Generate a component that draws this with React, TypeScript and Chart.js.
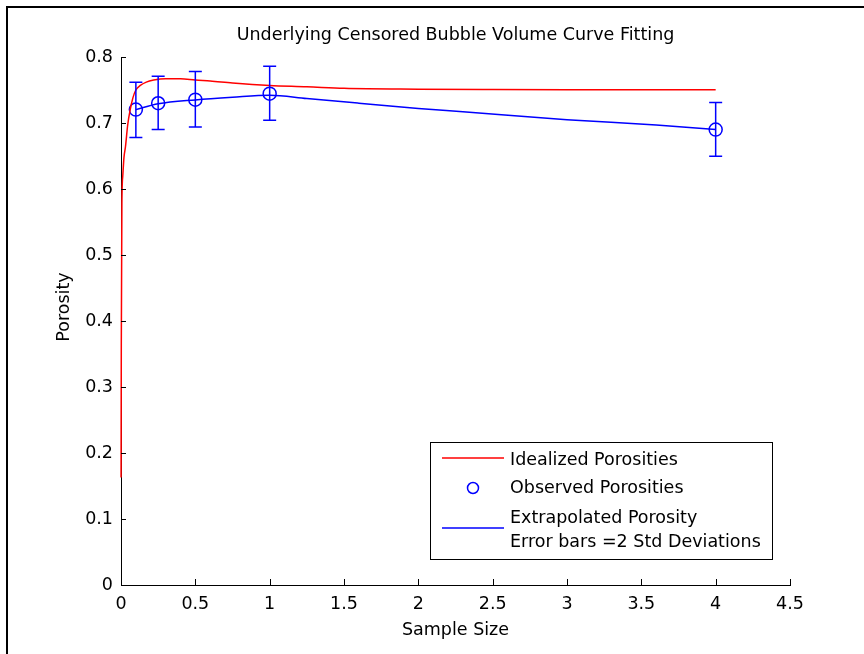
import React, { useEffect, useRef } from "react";
import { Chart, registerables } from "chart.js";

Chart.register(...registerables);

const FONT = "'DejaVu Sans', sans-serif";
const FS = 17.5;
const chartTitle = "Underlying Censored Bubble Volume Curve Fitting";
const xAxisTitle = "Sample Size";
const yAxisTitle = "Porosity";
const legendLabels = [
  "Idealized Porosities",
  "Observed Porosities",
  "Extrapolated Porosity",
  "Error bars =2 Std Deviations",
];

// Idealized porosity curve (red)
const idealX = [0.0005, 0.002, 0.006, 0.012, 0.02, 0.03, 0.045, 0.06, 0.08, 0.1, 0.13, 0.17, 0.22, 0.3, 0.4, 0.5, 0.6, 0.75, 1.0, 1.25, 1.5, 2.0, 2.5, 3.0, 3.5, 4.0];
const idealY = [0.163, 0.366, 0.578, 0.62, 0.648, 0.664, 0.697, 0.718, 0.738, 0.750, 0.757, 0.762, 0.765, 0.767, 0.767, 0.765, 0.7635, 0.7606, 0.757, 0.755, 0.7525, 0.7512, 0.7507, 0.7505, 0.7505, 0.7505];

// Observed porosities with error bars (blue circles)
const obsX = [0.1, 0.25, 0.5, 1, 4];
const obsY = [0.7203, 0.730, 0.7354, 0.7445, 0.690];
const obsLow = [0.678, 0.690, 0.694, 0.704, 0.6495];
const obsHigh = [0.7616, 0.771, 0.778, 0.786, 0.731];

// Extrapolated porosity (blue line)
const extrapX = [0.1, 0.25, 0.5, 0.75, 1.0, 1.25, 1.6, 2.0, 2.3, 3.0, 3.6, 4.0];
const extrapY = [0.7203, 0.729, 0.735, 0.739, 0.742, 0.737, 0.730, 0.722, 0.717, 0.705, 0.697, 0.690];

const X_MIN = 0, X_MAX = 4.5, X_STEP = 0.5;
const Y_MIN = 0, Y_MAX = 0.8, Y_STEP = 0.1;

const fmt = (v: number) => String(Math.round(v * 100) / 100);

const decorPlugin = {
  id: "decor",
  beforeDraw(chart: any) {
    const ctx = chart.ctx;
    ctx.save();
    ctx.fillStyle = "#fff";
    ctx.fillRect(0, 0, chart.width, chart.height);
    ctx.strokeStyle = "#000";
    ctx.lineWidth = 2;
    ctx.beginPath();
    ctx.moveTo(7, chart.height);
    ctx.lineTo(7, 7);
    ctx.lineTo(chart.width, 7);
    ctx.stroke();
    ctx.restore();
  },
  afterDatasetsDraw(chart: any) {
    const ctx = chart.ctx;
    const xs = chart.scales.x;
    const ys = chart.scales.y;
    const area = chart.chartArea;
    ctx.save();
    ctx.strokeStyle = "#0000ff";
    ctx.lineWidth = 1.5;
    for (let i = 0; i < obsX.length; i++) {
      const px = xs.getPixelForValue(obsX[i]);
      const pt = ys.getPixelForValue(obsHigh[i]);
      const pb = ys.getPixelForValue(obsLow[i]);
      ctx.beginPath();
      ctx.moveTo(px, pt);
      ctx.lineTo(px, pb);
      ctx.moveTo(px - 6.5, pt);
      ctx.lineTo(px + 6.5, pt);
      ctx.moveTo(px - 6.5, pb);
      ctx.lineTo(px + 6.5, pb);
      ctx.stroke();
    }
    ctx.strokeStyle = "#000";
    ctx.lineWidth = 1;
    ctx.beginPath();
    xs.ticks.forEach((t: any) => {
      const px = Math.round(xs.getPixelForValue(t.value)) + 0.5;
      ctx.moveTo(px, area.bottom);
      ctx.lineTo(px, area.bottom - 6);
    });
    ys.ticks.forEach((t: any) => {
      const py = Math.round(ys.getPixelForValue(t.value)) + 0.5;
      ctx.moveTo(area.left, py);
      ctx.lineTo(area.left + 5, py);
    });
    ctx.stroke();
    ctx.restore();
  },
  afterDraw(chart: any) {
    const ctx = chart.ctx;
    const area = chart.chartArea;
    ctx.save();
    ctx.fillStyle = "#000";
    ctx.font = `${FS}px ${FONT}`;
    ctx.textAlign = "center";
    ctx.textBaseline = "middle";
    ctx.fillText(chartTitle, (area.left + area.right) / 2, 35);
    ctx.save();
    ctx.translate(64, 307);
    ctx.rotate(-Math.PI / 2);
    ctx.fillText(yAxisTitle, 0, 0);
    ctx.restore();

    const lx = 430.5, ly = 442.5, lw = 342, lh = 117;
    ctx.fillStyle = "#fff";
    ctx.fillRect(lx, ly, lw, lh);
    ctx.strokeStyle = "#000";
    ctx.lineWidth = 1;
    ctx.strokeRect(lx, ly, lw, lh);

    ctx.lineWidth = 1.5;
    ctx.strokeStyle = "#ff0000";
    ctx.beginPath();
    ctx.moveTo(442, 458);
    ctx.lineTo(504, 458);
    ctx.stroke();

    ctx.strokeStyle = "#0000ff";
    ctx.beginPath();
    ctx.arc(473, 488, 5.5, 0, Math.PI * 2);
    ctx.stroke();

    ctx.beginPath();
    ctx.moveTo(442, 528);
    ctx.lineTo(504, 528);
    ctx.stroke();

    ctx.fillStyle = "#000";
    ctx.textAlign = "left";
    ctx.textBaseline = "middle";
    ctx.fillText(legendLabels[0], 510, 460);
    ctx.fillText(legendLabels[1], 510, 488);
    ctx.fillText(legendLabels[2], 510, 518);
    ctx.fillText(legendLabels[3], 510, 542);
    ctx.restore();
  },
};

export default function App() {
  const ref = useRef<HTMLCanvasElement | null>(null);
  useEffect(() => {
    if (!ref.current) return;
    Chart.defaults.color = "#000";
    Chart.defaults.font.family = FONT;
    Chart.defaults.font.size = FS;
    const chart = new Chart(ref.current, {
      type: "line",
      data: {
        datasets: [
          {
            label: legendLabels[0],
            data: idealX.map((x, i) => ({ x, y: idealY[i] })),
            borderColor: "#ff0000",
            borderWidth: 1.5,
            pointRadius: 0,
            fill: false,
            clip: 4,
            cubicInterpolationMode: "monotone",
          },
          {
            label: legendLabels[2],
            data: extrapX.map((x, i) => ({ x, y: extrapY[i] })),
            borderColor: "#0000ff",
            borderWidth: 1.5,
            pointRadius: 0,
            fill: false,
            cubicInterpolationMode: "monotone",
          },
          {
            label: legendLabels[1],
            data: obsX.map((x, i) => ({ x, y: obsY[i] })),
            showLine: false,
            borderColor: "#0000ff",
            backgroundColor: "rgba(0,0,0,0)",
            pointBorderColor: "#0000ff",
            pointBackgroundColor: "rgba(0,0,0,0)",
            pointRadius: 6.5,
            pointBorderWidth: 1.5,
            pointStyle: "circle",
          },
        ],
      },
      options: {
        animation: false,
        responsive: true,
        maintainAspectRatio: false,
        layout: { padding: { left: 0, right: 74, top: 57, bottom: 0 } },
        plugins: {
          legend: { display: false },
          title: { display: false },
          tooltip: { enabled: false },
        },
        scales: {
          x: {
            type: "linear",
            min: X_MIN,
            max: X_MAX,
            ticks: { stepSize: X_STEP, padding: 9, maxRotation: 0, font: { size: FS }, callback: (v: any) => fmt(Number(v)) },
            grid: { display: false, drawTicks: false },
            border: { display: true, color: "#000", width: 1 },
            title: { display: true, text: xAxisTitle, font: { size: FS }, padding: { top: 0, bottom: 13 } },
            afterFit: (s: any) => { s.height = 69; },
          },
          y: {
            type: "linear",
            min: Y_MIN,
            max: Y_MAX,
            ticks: { stepSize: Y_STEP, padding: 8, font: { size: FS }, callback: (v: any) => fmt(Number(v)) },
            grid: { display: false, drawTicks: false },
            border: { display: true, color: "#000", width: 1 },
            afterFit: (s: any) => { s.width = 121; },
          },
        },
      },
      plugins: [decorPlugin],
    } as any);
    return () => chart.destroy();
  }, []);
  return (
    <div style={{ position: "fixed", left: 0, top: 0, width: 864, height: 654, background: "#fff" }}>
      <canvas ref={ref} />
    </div>
  );
}
